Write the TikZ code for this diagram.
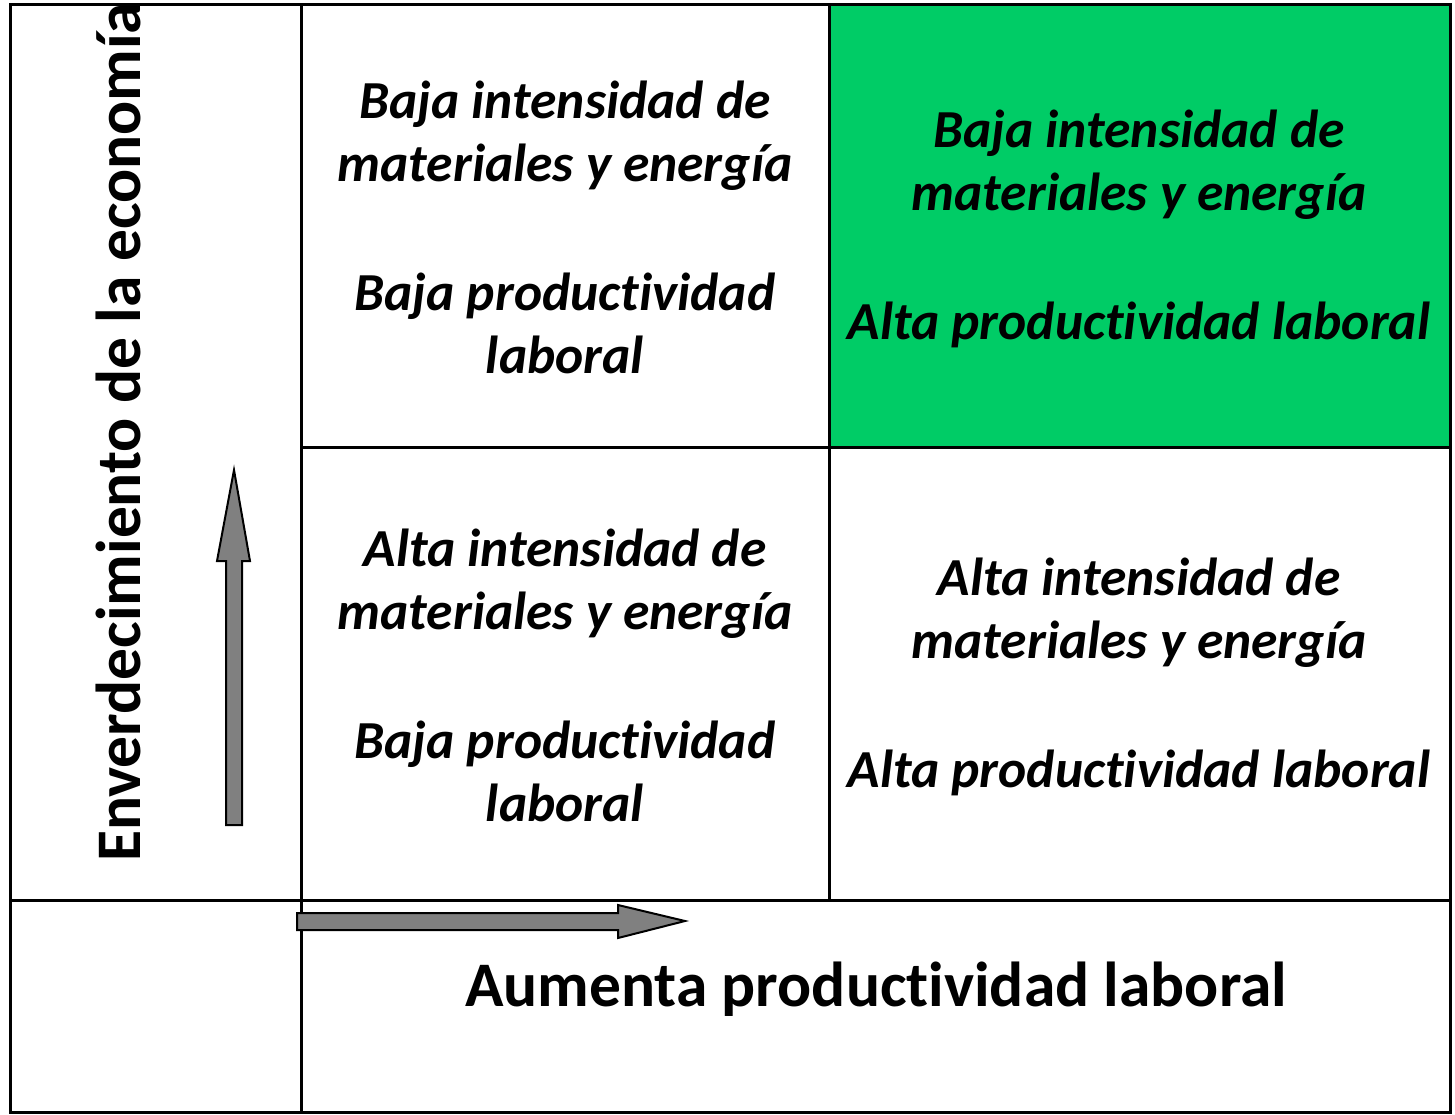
\documentclass[tikz,border=0pt]{standalone}
\usepackage{fontspec}
\setmainfont{Carlito}[Ligatures={NoCommon}]
\definecolor{cellgreen}{RGB}{0,204,102}
\definecolor{arrowgrey}{RGB}{128,128,128}
\tikzset{
  grid/.style={line width=3pt, draw=black},
  cell/.style={align=center, font=\fontsize{53.5}{63}\selectfont\bfseries\itshape, inner sep=0pt},
  blockarrow/.style={fill=arrowgrey, draw=black, line width=2pt, line join=miter},
  axislabel/.style={font=\fontsize{63.5}{72}\selectfont\bfseries, inner sep=0pt}
}
\begin{document}
\begin{tikzpicture}[x=1pt,y=-1pt]
\useasboundingbox (0,0) rectangle (1455,1114);
% green cell
\fill[cellgreen] (829,4) rectangle (1450,447);
% rotated axis label
\node[axislabel, rotate=90, anchor=base west] (ylab) at (140,862) {Enverdecimiento de la economía};
% grid
\coordinate (tl) at (10,4);
\coordinate (br) at (1450,1112);
\draw[grid] (tl) rectangle (br);
\draw[grid] (301,4) -- (301,1112);
\draw[grid] (829,4) -- (829,900);
\draw[grid] (301,447) -- (1450,447);
\draw[grid] (10,900) -- (1450,900);
% cell texts
\node[cell] (c11) at (565,227) {Baja intensidad de\\materiales y energía\\[66pt]Baja productividad\\laboral};
\node[cell] (c12) at (1139,229) {Baja intensidad de\\materiales y energía\\[66pt]Alta productividad laboral};
\node[cell] (c21) at (565,675) {Alta intensidad de\\materiales y energía\\[66pt]Baja productividad\\laboral};
\node[cell] (c22) at (1139,677) {Alta intensidad de\\materiales y energía\\[66pt]Alta productividad laboral};
% arrows
\draw[blockarrow] (226,825) -- (242,825) -- (242,561) -- (250,561) -- (234,470) -- (217,561) -- (226,561) -- cycle;
\draw[blockarrow] (297,913) -- (618,913) -- (618,905) -- (685,921) -- (618,938) -- (618,930) -- (297,930) -- cycle;
% bottom label
\node[axislabel, anchor=base] (xlab) at (876,1006) {Aumenta productividad laboral};
\end{tikzpicture}
\end{document}
